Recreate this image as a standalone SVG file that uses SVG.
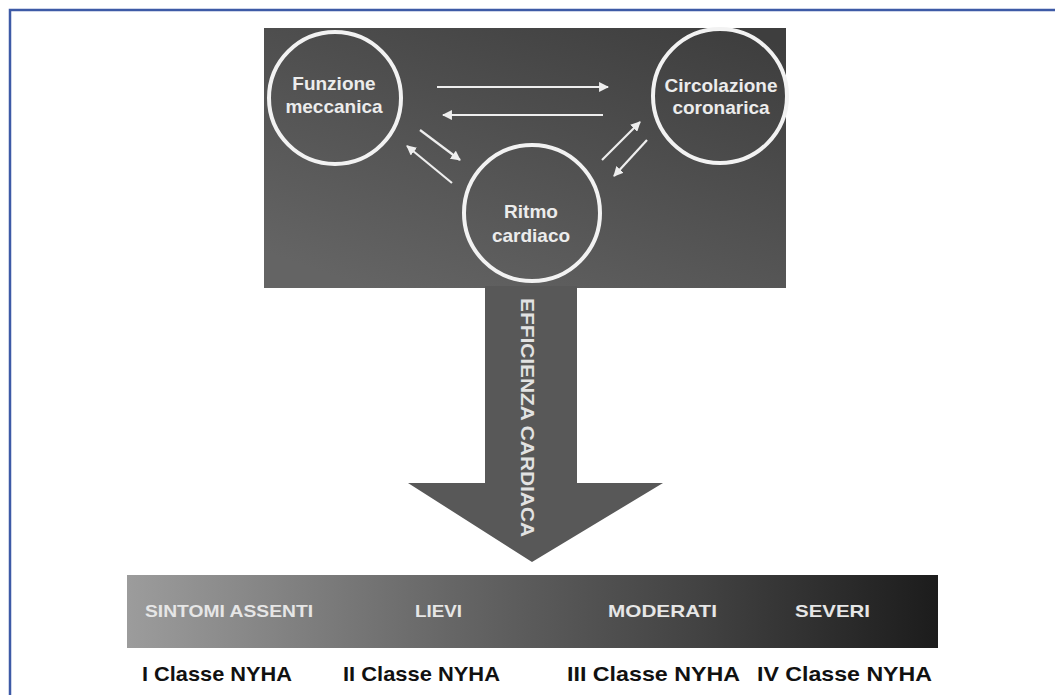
<svg xmlns="http://www.w3.org/2000/svg" width="1055" height="695" viewBox="0 0 1055 695">
  <defs>
    <linearGradient id="panelGrad" x1="0.2" y1="1" x2="0.9" y2="0">
      <stop offset="0" stop-color="#646464"/>
      <stop offset="0.5" stop-color="#515151"/>
      <stop offset="1" stop-color="#3e3e3e"/>
    </linearGradient>
    <linearGradient id="barGrad" x1="0" y1="0" x2="1" y2="0">
      <stop offset="0" stop-color="#9c9c9c"/>
      <stop offset="0.4" stop-color="#666666"/>
      <stop offset="0.7" stop-color="#434343"/>
      <stop offset="1" stop-color="#1c1c1c"/>
    </linearGradient>
    <marker id="head" viewBox="0 0 10 10" refX="9" refY="5" markerWidth="4.5" markerHeight="4.5" orient="auto" markerUnits="strokeWidth">
      <path d="M0,0 L10,5 L0,10 z" fill="#eeeeee"/>
    </marker>
    <style>
      .node circle { fill: none; stroke: #f2f2f2; stroke-width: 4; }
      .node text { font-family: "Liberation Sans", Arial, sans-serif; font-weight: bold; font-size: 19px; fill: #ececec; text-anchor: middle; }
      .conn line { stroke: #eeeeee; stroke-width: 2.2; marker-end: url(#head); }
      .bar text { font-family: "Liberation Sans", Arial, sans-serif; font-weight: bold; font-size: 17px; fill: #e6e6e6; }
      .cls text { font-family: "Liberation Sans", Arial, sans-serif; font-weight: bold; font-size: 21px; fill: #111111; }
    </style>
  </defs>
  <rect width="1055" height="695" fill="#ffffff"/>
  <path d="M10,695 L10,10 L1055,10" fill="none" stroke="#3d5aa6" stroke-width="2.5"/>

  <g id="panel">
    <rect x="264" y="28" width="522" height="260" fill="url(#panelGrad)"/>
  </g>

  <g id="efficienza">
    <path d="M485,286 L577,286 L577,483 L663,483 L532,562 L408,483 L485,483 Z" fill="#585858"/>
    <text transform="translate(526,298) rotate(90)" x="0" y="0" font-family="Liberation Sans, Arial, sans-serif" font-weight="bold" font-size="18" fill="#e2e2e2" textLength="239" lengthAdjust="spacingAndGlyphs" dominant-baseline="middle">EFFICIENZA CARDIACA</text>
  </g>

  <g id="funzione" class="node">
    <circle cx="335" cy="98" r="66"/>
    <text x="334" y="90">Funzione</text>
    <text x="334" y="113">meccanica</text>
  </g>
  <g id="circolazione" class="node">
    <circle cx="720" cy="96" r="67"/>
    <text x="721" y="92">Circolazione</text>
    <text x="721" y="114">coronarica</text>
  </g>
  <g id="ritmo" class="node">
    <circle cx="532" cy="213" r="68"/>
    <text x="531" y="218">Ritmo</text>
    <text x="531" y="242">cardiaco</text>
  </g>

  <g id="connectors" class="conn">
    <line x1="437" y1="87" x2="608" y2="87"/>
    <line x1="603" y1="115" x2="443" y2="115"/>
    <line x1="420" y1="130" x2="460" y2="160"/>
    <line x1="452" y1="183" x2="407" y2="146"/>
    <line x1="602" y1="160" x2="640" y2="122"/>
    <line x1="647" y1="140" x2="614" y2="176"/>
  </g>

  <g id="severity" class="bar">
    <rect x="127" y="575" width="811" height="73" fill="url(#barGrad)"/>
    <text x="145" y="617" textLength="168" lengthAdjust="spacingAndGlyphs">SINTOMI ASSENTI</text>
    <text x="415" y="617" textLength="47" lengthAdjust="spacingAndGlyphs">LIEVI</text>
    <text x="608" y="617" textLength="109" lengthAdjust="spacingAndGlyphs">MODERATI</text>
    <text x="795" y="617" textLength="75" lengthAdjust="spacingAndGlyphs">SEVERI</text>
  </g>

  <g id="classes" class="cls">
    <text x="142" y="681" textLength="150" lengthAdjust="spacingAndGlyphs">I Classe NYHA</text>
    <text x="343" y="681" textLength="157" lengthAdjust="spacingAndGlyphs">II Classe NYHA</text>
    <text x="567" y="681" textLength="173" lengthAdjust="spacingAndGlyphs">III Classe NYHA</text>
    <text x="757" y="681" textLength="175" lengthAdjust="spacingAndGlyphs">IV Classe NYHA</text>
  </g>
</svg>
